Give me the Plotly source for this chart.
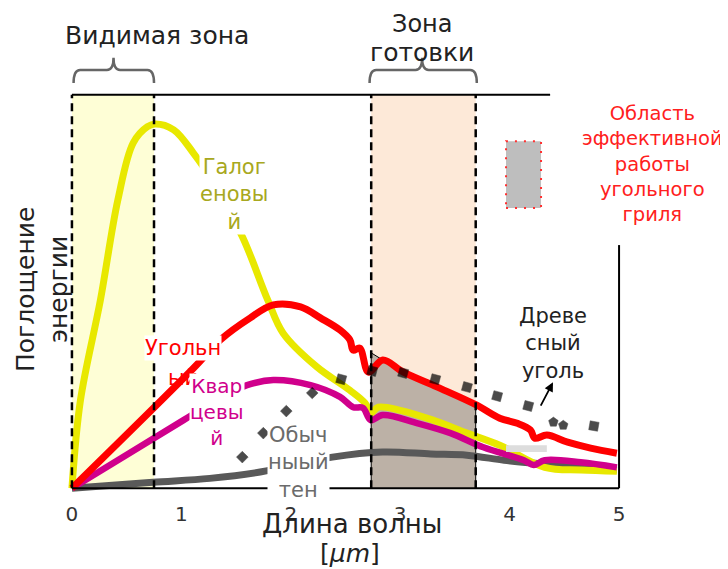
import plotly.graph_objects as go

# ---------------- data ----------------
x_ticks = [0, 1, 2, 3, 4, 5]
x_tick_labels = ["0", "1", "2", "3", "4", "5"]

visible_zone = [0.0, 0.75]
cooking_zone = [2.735, 3.69]

halogen_x = [0, 0.078, 0.26, 0.42, 0.56, 0.69, 0.76, 0.93, 1.11, 1.26, 1.38, 1.54, 1.79, 1.93,
             2.24, 2.54, 2.68, 2.73, 2.80, 3.0, 3.30, 3.61, 3.91, 4.32, 4.65, 4.98]
halogen_y = [0, 22.4, 47.8, 73.3, 87.8, 91.9, 92.6, 91.1, 85.2, 79.1, 71.5, 64.9, 47.8, 39.4,
             30.8, 24.9, 21.6, 19.1, 20.6, 19.8, 17.3, 14.0, 10.9, 5.3, 4.6, 4.3]

coal_x = [0, 1.11, 1.356, 1.63, 1.84, 2.09, 2.27, 2.45, 2.54, 2.57, 2.63, 2.71, 2.84, 3.03,
          3.34, 3.70, 3.91, 4.07, 4.19, 4.23, 4.34, 4.53, 4.74, 4.98]
coal_y = [0, 30.5, 37.7, 43.3, 46.6, 46.1, 43.3, 40.2, 37.7, 35.1, 35.6, 29.5, 32.6, 29.5,
          25.7, 21.1, 17.8, 16.5, 14.8, 12.7, 13.5, 11.7, 10.2, 8.9]

quartz_x = [0, 1.02, 1.37, 1.60, 1.84, 2.18, 2.45, 2.57, 2.66, 2.73, 2.84, 3.16, 3.46, 3.76,
            4.13, 4.22, 4.32, 4.65, 4.98]
quartz_y = [0, 17.3, 23.2, 26.2, 27.5, 26.2, 23.2, 20.6, 20.4, 17.3, 18.6, 16.5, 14.0, 10.4,
            7.1, 5.9, 7.1, 6.6, 5.3]

heater_x = [0, 0.74, 1.26, 1.72, 2.38, 2.84, 3.28, 3.61, 3.95, 4.20, 4.98]
heater_y = [0, 1.5, 2.5, 4.1, 7.9, 9.2, 8.7, 8.4, 7.1, 6.4, 4.6]

wood_x = [1.557, 1.749, 1.959, 2.196, 2.461, 2.744, 3.027, 3.32, 3.61, 3.886, 4.17, 4.40, 4.49, 4.77]
wood_y = [7.9, 14.0, 19.6, 24.2, 27.7, 29.8, 29.3, 27.7, 25.7, 23.4, 20.9, 16.8, 16.0, 15.8]

# grill area (brown) top edge under the coal curve within the cooking zone
grill_x = [2.735, 2.735, 2.84, 3.03, 3.34, 3.69, 3.69]
grill_y = [0, 34.4, 32.6, 29.5, 25.7, 21.1, 0]

legend_box_x = [3.967, 4.287]
legend_box_y = [71.2, 88.2]

# ---------------- layout helpers ----------------
XR = [-0.1, 5.1]
YR = [-3, 103]
OFF = 8                      # page body margin
PL, PT, PW, PH = 61, 83, 569, 417   # plot area in page pixels
FW, FH = 728 - OFF, 569 - OFF
FONT = "DejaVu Sans"


def xp(x):
    return (x - XR[0]) / (XR[1] - XR[0])


def yp(y):
    return (y - YR[0]) / (YR[1] - YR[0])


def pxp(px):
    return (px - PL) / PW


def pyp(py):
    return (PT + PH - py) / PH


fig = go.Figure()

fig.add_trace(go.Scatter(x=grill_x, y=grill_y, mode="lines", fill="toself",
                         fillcolor="#BCB1A6", line=dict(color="#000000", width=1),
                         hoverinfo="skip", showlegend=False))

SM = 1.0
fig.add_trace(go.Scatter(x=heater_x, y=heater_y, mode="lines",
                         line=dict(color="#595959", width=7, shape="spline", smoothing=SM),
                         showlegend=False))
fig.add_trace(go.Scatter(x=halogen_x, y=halogen_y, mode="lines",
                         line=dict(color="#E8E800", width=7, shape="spline", smoothing=SM),
                         showlegend=False))
fig.add_trace(go.Scatter(x=quartz_x, y=quartz_y, mode="lines",
                         line=dict(color="#D0008C", width=6.5, shape="spline", smoothing=SM),
                         showlegend=False))
fig.add_trace(go.Scatter(x=coal_x, y=coal_y, mode="lines",
                         line=dict(color="#FF0000", width=7, shape="spline", smoothing=SM),
                         showlegend=False))

wood_symbols = ["diamond"] * 4 + ["square"] * 7 + ["pentagon"] * 2 + ["square"]
wood_sizes = [9] * 4 + [9] * 7 + [10] * 2 + [9]
fig.add_trace(go.Scatter(x=wood_x, y=wood_y, mode="markers",
                         marker=dict(color="#000000", symbol=wood_symbols, size=wood_sizes,
                                     angle=[0] * 4 + [15] * 7 + [0] * 2 + [10],
                                     line=dict(width=0.5, color="#000000")),
                         cliponaxis=False, showlegend=False))

shapes = []
shapes.append(dict(type="rect", xref="x", yref="y", x0=visible_zone[0], x1=visible_zone[1],
                   y0=0, y1=100, fillcolor="#FEFED6", line=dict(width=0), layer="below"))
shapes.append(dict(type="rect", xref="x", yref="y", x0=cooking_zone[0], x1=cooking_zone[1],
                   y0=0, y1=100, fillcolor="#FDE9D8", line=dict(width=0), layer="below"))
shapes.append(dict(type="line", xref="x", yref="y", x0=0, x1=4.37, y0=100, y1=100,
                   line=dict(color="#000000", width=2)))
shapes.append(dict(type="line", xref="x", yref="y", x0=5, x1=5, y0=0, y1=61.8,
                   line=dict(color="#000000", width=2)))
shapes.append(dict(type="line", xref="x", yref="y", x0=0, x1=5, y0=0, y1=0,
                   line=dict(color="#000000", width=2)))
for xv in visible_zone + cooking_zone:
    shapes.append(dict(type="line", xref="x", yref="y", x0=xv, x1=xv, y0=0, y1=100,
                       line=dict(color="#000000", width=2.5, dash="8px,5px")))
shapes.append(dict(type="rect", xref="x", yref="y", x0=legend_box_x[0], x1=legend_box_x[1],
                   y0=legend_box_y[0], y1=legend_box_y[1], fillcolor="#BEBEBE",
                   line=dict(color="#FF3030", width=2, dash="2px,7px")))
shapes.append(dict(type="rect", xref="x", yref="y", x0=3.967, x1=4.34, y0=9.2, y1=10.9,
                   fillcolor="#DDDDDD", line=dict(width=0), layer="above"))


def brace(x0, x1, xm, yb, yh, yt):
    r = 0.06
    X0, X1, XM = xp(x0), xp(x1), xp(xm)
    Yb, Yh, Yt = yp(yb), yp(yh), yp(yt)
    dr = xp(x0 + r) - xp(x0)
    return (f"M {X0},{Yb} Q {X0},{Yh} {X0+dr},{Yh} L {XM-dr},{Yh} Q {XM},{Yh} {XM},{Yt} "
            f"Q {XM},{Yh} {XM+dr},{Yh} L {X1-dr},{Yh} Q {X1},{Yh} {X1},{Yb}")


shapes.append(dict(type="path", xref="paper", yref="paper",
                   path=brace(0.015, 0.75, 0.38, 103, 106.3, 109.4),
                   line=dict(color="#666666", width=2.5)))
shapes.append(dict(type="path", xref="paper", yref="paper",
                   path=brace(2.72, 3.70, 3.2, 103, 106.3, 109.4),
                   line=dict(color="#666666", width=2.5)))

annotations = []


def label(x, y, text, color, size=21, bg=None, ref="x"):
    d = dict(x=x, y=y, text=text, showarrow=False, font=dict(family=FONT, size=size, color=color),
             xanchor="center", yanchor="middle", align="center", borderpad=0)
    if ref == "paper":
        d.update(xref="paper", yref="paper")
    else:
        d.update(xref="x", yref="y")
    if bg:
        d["bgcolor"] = bg
    annotations.append(d)


label(1.483, 74.7, "Галог<br>еновы<br>й", "#A8A820", bg="#FFFFFF")
label(1.015, 35.6, "Угольн", "#FF0000", bg="#FFFFFF")
label(1.015, 28.0, "ый", "#FF0000")
label(1.326, 19.3, "Квар<br>цевы<br>й", "#D0008C", size=20, bg="#FFFFFF")
label(2.066, 6.6, "Обыч<br>ныый<br>тен", "#6B6B6B", bg="#FFFFFF")
label(4.4, 36.9, "Древе<br>сный<br>уголь", "#222222")

label(xp(0.78), yp(115.2), "Видимая зона", "#222222", size=25, ref="paper")
label(pxp(422), pyp(24), "Зона", "#222222", size=24, ref="paper")
label(pxp(422), pyp(52), "готовки", "#222222", size=25, ref="paper")
label(pxp(652), pyp(164), "Область<br>эффективной<br>работы<br>угольного<br>гриля", "#FF2020",
      size=19.5, ref="paper")
label(pxp(352), pyp(524), "Длина волны", "#222222", size=26, ref="paper")
label(pxp(350), pyp(553), "[<i>μm</i>]", "#222222", size=25, ref="paper")
annotations.append(dict(xref="paper", yref="paper", x=pxp(42), y=pyp(290),
                        text="Поглощение<br>энергии", textangle=-90, showarrow=False,
                        font=dict(family=FONT, size=25, color="#222222"),
                        xanchor="center", yanchor="middle", align="center"))
annotations.append(dict(x=4.396, y=26.9, ax=4.277, ay=20.6, xref="x", yref="y", axref="x",
                        ayref="y", text="", showarrow=True, arrowhead=2, arrowsize=1,
                        arrowwidth=1.8, arrowcolor="#000000", standoff=0))

fig.update_layout(
    width=FW, height=FH,
    margin=dict(l=PL - OFF, r=FW - (PL - OFF) - PW, t=PT - OFF, b=FH - (PT - OFF) - PH, pad=0),
    paper_bgcolor="#FFFFFF", plot_bgcolor="#FFFFFF",
    font=dict(family=FONT),
    showlegend=False,
    shapes=shapes,
    annotations=annotations,
    xaxis=dict(range=XR, tickvals=x_ticks, ticktext=x_tick_labels, showgrid=False,
               zeroline=False, showline=False, ticks="",
               tickfont=dict(family=FONT, size=20, color="#333333"), fixedrange=True),
    yaxis=dict(range=YR, showgrid=False, zeroline=False, showline=False, showticklabels=False,
               ticks="", fixedrange=True),
)

fig.write_html("out.html")
